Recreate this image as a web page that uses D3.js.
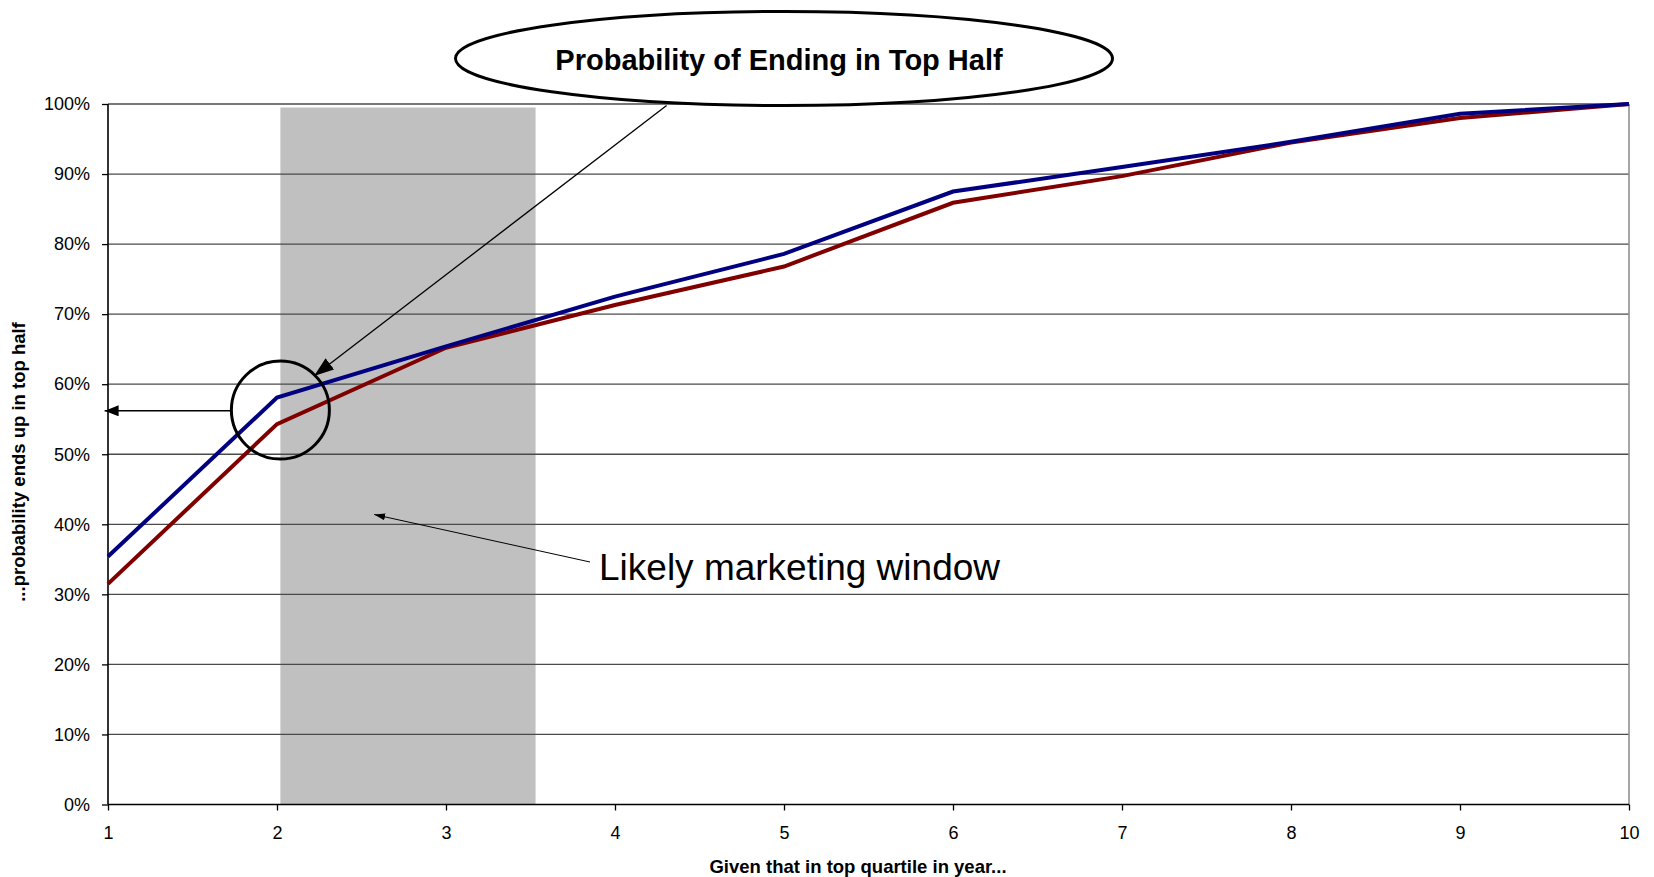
<!DOCTYPE html>
<html>
<head>
<meta charset="utf-8">
<script src="https://cdn.jsdelivr.net/npm/d3@7"></script>
<style>
  body { margin: 0; background: #fff; }
  svg text { font-family: Arial, "Liberation Sans", sans-serif; fill: #000; }
</style>
</head>
<body>
<svg width="1654" height="877"></svg>
<script>
// values
var years = [1, 2, 3, 4, 5, 6, 7, 8, 9, 10];
var seriesBlue = [0.354, 0.581, 0.654, 0.725, 0.786, 0.875, 0.910, 0.946, 0.986, 1.0];
var seriesRed  = [0.315, 0.543, 0.652, 0.713, 0.768, 0.859, 0.897, 0.945, 0.980, 1.0];
var yTicks = [0, 0.1, 0.2, 0.3, 0.4, 0.5, 0.6, 0.7, 0.8, 0.9, 1.0];
var windowRange = [2.02, 3.53];   // shaded "marketing window", in years
var windowTop = 0.995;

var svg = d3.select("svg"),
    margin = {top: 104, right: 25, bottom: 72.5, left: 108},
    width = +svg.attr("width") - margin.left - margin.right,
    height = +svg.attr("height") - margin.top - margin.bottom;

var x = d3.scaleLinear().domain([1, 10]).range([margin.left, margin.left + width]);
var y = d3.scaleLinear().domain([0, 1]).range([margin.top + height, margin.top]);

// shaded window
svg.append("rect")
    .attr("x", x(windowRange[0]))
    .attr("y", y(windowTop))
    .attr("width", x(windowRange[1]) - x(windowRange[0]))
    .attr("height", y(0) - y(windowTop))
    .attr("fill", "#c0c0c0");

// gridlines
svg.append("g").selectAll("line")
    .data(yTicks.slice(1))
    .enter().append("line")
    .attr("x1", x(1)).attr("x2", x(10))
    .attr("y1", function(d) { return y(d); })
    .attr("y2", function(d) { return y(d); })
    .attr("stroke", "#4a4a4a")
    .attr("stroke-width", 1.3);

// right border
svg.append("line")
    .attr("x1", x(10)).attr("x2", x(10))
    .attr("y1", y(1)).attr("y2", y(0))
    .attr("stroke", "#8a8a8a").attr("stroke-width", 1.5);

// axes
var yAxis = svg.append("g")
    .attr("transform", "translate(" + x(1) + ",0)")
    .call(d3.axisLeft(y).tickValues(yTicks).tickSize(6).tickPadding(12).tickFormat(d3.format(".0%")));
var xAxis = svg.append("g")
    .attr("transform", "translate(0," + y(0) + ")")
    .call(d3.axisBottom(x).tickValues(years).tickSize(6).tickPadding(16).tickFormat(d3.format("d")));

[yAxis, xAxis].forEach(function(a) {
  a.select(".domain").attr("stroke", "#000").attr("stroke-width", 1.6);
  a.selectAll(".tick line").attr("stroke", "#000").attr("stroke-width", 1.3);
  a.selectAll("text").attr("font-size", 18).attr("font-family", null);
});
yAxis.select(".domain").attr("d", "M0," + y(1) + "V" + y(0));
xAxis.select(".domain").attr("d", "M" + x(1) + ",0H" + x(10));

// lines
var line = d3.line()
    .x(function(d, i) { return x(years[i]); })
    .y(function(d) { return y(d); });

svg.append("path").datum(seriesRed)
    .attr("d", line).attr("fill", "none")
    .attr("stroke", "#800000").attr("stroke-width", 4);
svg.append("path").datum(seriesBlue)
    .attr("d", line).attr("fill", "none")
    .attr("stroke", "#000080").attr("stroke-width", 4);

// axis titles
svg.append("text")
    .attr("x", 858).attr("y", 873)
    .attr("text-anchor", "middle")
    .attr("font-size", 18.5).attr("font-weight", "bold")
    .text("Given that in top quartile in year...");

svg.append("text")
    .attr("transform", "translate(25," + 462 + ") rotate(-90)")
    .attr("text-anchor", "middle")
    .attr("font-size", 18.5).attr("font-weight", "bold")
    .text("...probability ends up in top half");

// arrow heads
var defs = svg.append("defs");
function marker(id, w, h) {
  defs.append("marker")
      .attr("id", id)
      .attr("viewBox", "0 0 " + w + " " + h)
      .attr("refX", w).attr("refY", h / 2)
      .attr("markerUnits", "userSpaceOnUse")
      .attr("markerWidth", w).attr("markerHeight", h)
      .attr("orient", "auto")
    .append("path")
      .attr("d", "M0,0L" + w + "," + (h / 2) + "L0," + h + "Z")
      .attr("fill", "#000");
}
marker("headBig", 20, 14);
marker("headMid", 14, 11);
marker("headSmall", 11, 7);

// circle around year 2
var circ = {cx: 2.02, cy: 0.563, r: 49};
svg.append("circle")
    .attr("cx", x(circ.cx)).attr("cy", y(circ.cy)).attr("r", circ.r)
    .attr("fill", "none").attr("stroke", "#000").attr("stroke-width", 3);

// arrow from circle to y axis
svg.append("line")
    .attr("x1", x(circ.cx) - circ.r).attr("y1", y(0.562))
    .attr("x2", x(0.98)).attr("y2", y(0.562))
    .attr("stroke", "#000").attr("stroke-width", 1.5)
    .attr("marker-end", "url(#headMid)");

// title ellipse with callout
svg.append("line")
    .attr("x1", 666.6).attr("y1", 105.5)
    .attr("x2", 314).attr("y2", 376)
    .attr("stroke", "#000").attr("stroke-width", 1.3)
    .attr("marker-end", "url(#headBig)");

svg.append("ellipse")
    .attr("cx", 784).attr("cy", 58.5).attr("rx", 328.5).attr("ry", 47)
    .attr("fill", "#fff").attr("stroke", "#000").attr("stroke-width", 3);

svg.append("text")
    .attr("x", 779).attr("y", 70)
    .attr("text-anchor", "middle")
    .attr("font-size", 29).attr("font-weight", "bold")
    .text("Probability of Ending in Top Half");

// marketing window label
svg.append("line")
    .attr("x1", 590).attr("y1", 562)
    .attr("x2", x(2.575)).attr("y2", y(0.414))
    .attr("stroke", "#000").attr("stroke-width", 1)
    .attr("marker-end", "url(#headSmall)");

svg.append("text")
    .attr("x", 599).attr("y", 580)
    .attr("font-size", 37)
    .text("Likely marketing window");
</script>
</body>
</html>
